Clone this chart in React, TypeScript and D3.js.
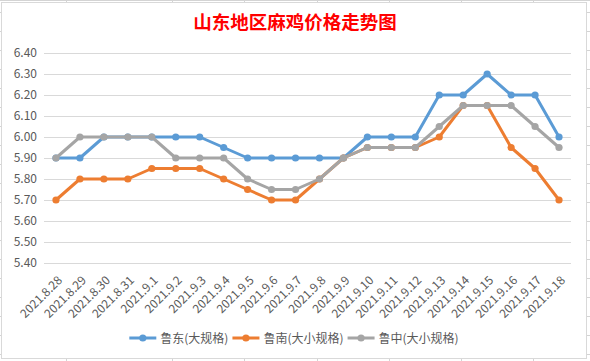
import { useEffect, useRef } from 'react';
import * as d3 from 'd3';

const DATES = [
  '2021.8.28', '2021.8.29', '2021.8.30', '2021.8.31', '2021.9.1', '2021.9.2',
  '2021.9.3', '2021.9.4', '2021.9.5', '2021.9.6', '2021.9.7', '2021.9.8',
  '2021.9.9', '2021.9.10', '2021.9.11', '2021.9.12', '2021.9.13', '2021.9.14',
  '2021.9.15', '2021.9.16', '2021.9.17', '2021.9.18',
];

const LUDONG = [
  5.9, 5.9, 6.0, 6.0, 6.0, 6.0, 6.0, 5.95, 5.9, 5.9, 5.9,
  5.9, 5.9, 6.0, 6.0, 6.0, 6.2, 6.2, 6.3, 6.2, 6.2, 6.0,
];
const LUNAN = [
  5.7, 5.8, 5.8, 5.8, 5.85, 5.85, 5.85, 5.8, 5.75, 5.7, 5.7,
  5.8, 5.9, 5.95, 5.95, 5.95, 6.0, 6.15, 6.15, 5.95, 5.85, 5.7,
];
const LUZHONG = [
  5.9, 6.0, 6.0, 6.0, 6.0, 5.9, 5.9, 5.9, 5.8, 5.75, 5.75,
  5.8, 5.9, 5.95, 5.95, 5.95, 6.05, 6.15, 6.15, 6.15, 6.05, 5.95,
];

const Y_TICKS = [5.4, 5.5, 5.6, 5.7, 5.8, 5.9, 6.0, 6.1, 6.2, 6.3, 6.4];

const SERIES = [
  { name: '鲁东(大规格)', color: '#5B9BD5', values: LUDONG },
  { name: '鲁南(大小规格)', color: '#ED7D31', values: LUNAN },
  { name: '鲁中(大小规格)', color: '#A5A5A5', values: LUZHONG },
];

const TITLE = '山东地区麻鸡价格走势图';

// spreadsheet cell lines peeking out round the chart box
const SHEET_COLS = [66, 172, 244, 317, 389, 461, 533];
const SHEET_ROW_START = 12;
const SHEET_ROW_STEP = 19;

const WIDTH = 590;
const HEIGHT = 361;
const PLOT = { left: 44, right: 571, top: 53, bottom: 263 };

const FONT = '"Noto Sans CJK SC", "Noto Sans", sans-serif';
const TEXT_COLOR = '#595959';
const GRID_COLOR = '#D9D9D9';

export default function App() {
  const svgRef = useRef<SVGSVGElement>(null);

  useEffect(() => {
    const svg = d3.select(svgRef.current);
    svg.selectAll('*').remove();
    svg.style('font-family', FONT);

    // Sheet background ------------------------------------------------------
    const sheet = svg.append('g');
    sheet.append('rect').attr('width', WIDTH).attr('height', HEIGHT).attr('fill', '#fff');
    sheet
      .selectAll('line.col')
      .data(SHEET_COLS)
      .join('line')
      .attr('x1', (d) => d + 0.5)
      .attr('x2', (d) => d + 0.5)
      .attr('y1', 0)
      .attr('y2', HEIGHT)
      .attr('stroke', '#D4D4D4');
    sheet
      .selectAll('line.row')
      .data(d3.range(SHEET_ROW_START, HEIGHT, SHEET_ROW_STEP))
      .join('line')
      .attr('x1', 0)
      .attr('x2', WIDTH)
      .attr('y1', (d) => d + 0.5)
      .attr('y2', (d) => d + 0.5)
      .attr('stroke', '#D4D4D4');
    sheet
      .append('line')
      .attr('x1', 0)
      .attr('x2', WIDTH)
      .attr('y1', 0.5)
      .attr('y2', 0.5)
      .attr('stroke', '#D4D4D4');

    // Chart box
    svg
      .append('rect')
      .attr('x', 1.5)
      .attr('y', 2.5)
      .attr('width', 585)
      .attr('height', 356)
      .attr('fill', '#fff')
      .attr('stroke', GRID_COLOR);

    // Title ---------------------------------------------------------------
    svg
      .append('text')
      .attr('x', 295)
      .attr('y', 29)
      .attr('text-anchor', 'middle')
      .style('font-size', '18.5px')
      .style('font-weight', 'bold')
      .style('fill', '#FF0000')
      .text(TITLE);

    // Scales ---------------------------------------------------------------
    const x = d3.scaleBand<string>().domain(DATES).range([PLOT.left, PLOT.right]);
    const cx = (d: string) => (x(d) ?? 0) + x.bandwidth() / 2;
    const y = d3.scaleLinear().domain([5.4, 6.4]).range([PLOT.bottom, PLOT.top]);

    // Gridlines + y labels
    const yAxis = d3
      .axisLeft(y)
      .tickValues(Y_TICKS)
      .tickFormat((d) => d3.format('.2f')(d as number))
      .tickSize(-(PLOT.right - PLOT.left))
      .tickPadding(7);

    svg
      .append('g')
      .attr('transform', `translate(${PLOT.left},0)`)
      .call(yAxis)
      .call((sel) => sel.select('.domain').remove())
      .call((sel) => sel.selectAll('line').attr('stroke', GRID_COLOR))
      .selectAll('text')
      .style('font-family', FONT)
      .style('font-size', '12px')
      .style('fill', TEXT_COLOR);

    // X labels, rotated
    svg
      .append('g')
      .selectAll('text')
      .data(DATES)
      .join('text')
      .attr('transform', (d) => `translate(${cx(d) + 7},${PLOT.bottom + 18}) rotate(-45)`)
      .attr('text-anchor', 'end')
      .style('font-size', '12px')
      .style('fill', TEXT_COLOR)
      .text((d) => d);

    // Lines ----------------------------------------------------------------
    const line = d3
      .line<number>()
      .x((_, i) => cx(DATES[i]))
      .y((v) => y(v));

    for (const s of SERIES) {
      const g = svg.append('g');
      g.append('path')
        .attr('d', line(s.values))
        .attr('fill', 'none')
        .attr('stroke', s.color)
        .attr('stroke-width', 3)
        .attr('stroke-linejoin', 'round');
      g.selectAll('circle')
        .data(s.values)
        .join('circle')
        .attr('cx', (_, i) => cx(DATES[i]))
        .attr('cy', (v) => y(v))
        .attr('r', 3.6)
        .attr('fill', s.color);
    }

    // Legend ---------------------------------------------------------------
    const legend = svg.append('g');
    const lineLen = 27;
    const itemGap = 4;
    let cursor = 0;
    for (const s of SERIES) {
      const item = legend.append('g').attr('transform', `translate(${cursor},0)`);
      item
        .append('line')
        .attr('x1', 0)
        .attr('x2', lineLen)
        .attr('stroke', s.color)
        .attr('stroke-width', 3);
      item
        .append('circle')
        .attr('cx', lineLen / 2)
        .attr('r', 3.6)
        .attr('fill', s.color);
      const text = item
        .append('text')
        .attr('x', lineLen + 4)
        .attr('y', 4.5)
        .style('font-size', '12px')
        .style('fill', TEXT_COLOR)
        .text(s.name);
      cursor += lineLen + 4 + (text.node()?.getComputedTextLength() ?? 0) + itemGap;
    }
    cursor -= itemGap;
    legend.attr('transform', `translate(${294 - cursor / 2},338)`);
  }, []);

  return (
    <svg
      ref={svgRef}
      width={WIDTH}
      height={HEIGHT}
      style={{ position: 'absolute', left: 0, top: 0 }}
    />
  );
}
